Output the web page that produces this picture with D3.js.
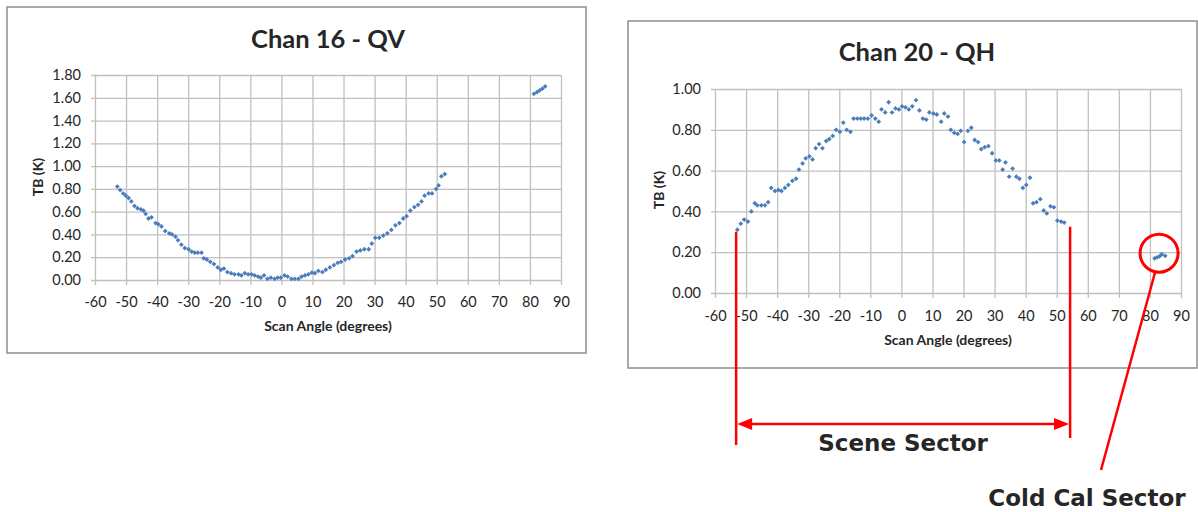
<!DOCTYPE html>
<html>
<head>
<meta charset="utf-8">
<script src="https://cdn.jsdelivr.net/npm/d3@7"></script>
<style>
  body { margin: 0; background: #fff; }
  svg text { font-family: Lato, "Open Sans", sans-serif; fill: #262626; }
</style>
</head>
<body>
<svg id="chart" width="1198" height="512"></svg>
<script>
// ---- data ----
const xTicks = [-60, -50, -40, -30, -20, -10, 0, 10, 20, 30, 40, 50, 60, 70, 80, 90];
const qvTicks = [0, 0.2, 0.4, 0.6, 0.8, 1.0, 1.2, 1.4, 1.6, 1.8];
const qhTicks = [0, 0.2, 0.4, 0.6, 0.8, 1.0];

// Chan 16 - QV
const qvAngle = [-52.8, -51.9, -50.9, -50.1, -49.2, -48.3, -47.3, -46.3, -45.2, -44.4, -43.7, -42.8, -41.8,
  -40.5, -39.6, -38.6, -37.4, -36.1, -35.2, -34.1, -33.3, -32.2, -31.1, -29.9, -28.9, -27.9, -26.9, -25.7,
  -25.0, -24.0, -22.9, -21.7, -20.5, -19.5, -18.5, -17.4, -16.2, -15.1, -13.8, -12.9, -11.8, -10.7, -9.6,
  -8.6, -7.5, -6.6, -5.6, -4.5, -3.4, -2.2, -1.2, -0.2, 1.0, 2.0, 3.2, 4.3, 5.5, 6.5, 7.6, 8.7, 9.8, 10.8,
  11.9, 13.2, 14.3, 15.6, 16.9, 18.1, 19.2, 20.5, 21.8, 22.9, 24.2, 25.4, 26.7, 28.1, 29.1, 30.2, 31.5,
  32.8, 34.1, 35.4, 36.7, 38.0, 39.2, 40.3, 41.5, 42.8, 44.0, 45.1, 46.1, 47.4, 48.5, 49.8, 50.6, 51.5, 52.6,
  81.3, 82.3, 83.1, 84.0, 84.9];
const qvTb = [0.82, 0.79, 0.76, 0.74, 0.72, 0.69, 0.65, 0.63, 0.62, 0.61, 0.58, 0.54, 0.55,
  0.50, 0.49, 0.47, 0.43, 0.41, 0.40, 0.38, 0.35, 0.31, 0.28, 0.27, 0.25, 0.24, 0.24, 0.24,
  0.19, 0.18, 0.16, 0.14, 0.11, 0.09, 0.10, 0.07, 0.06, 0.05, 0.05, 0.04, 0.06, 0.05, 0.05,
  0.04, 0.03, 0.02, 0.04, 0.01, 0.02, 0.01, 0.02, 0.02, 0.04, 0.03, 0.01, 0.01, 0.01, 0.03, 0.04, 0.05, 0.065, 0.06,
  0.08, 0.07, 0.09, 0.11, 0.13, 0.15, 0.16, 0.18, 0.19, 0.21, 0.25, 0.26, 0.27, 0.27, 0.32, 0.37, 0.37,
  0.39, 0.41, 0.44, 0.48, 0.50, 0.54, 0.56, 0.61, 0.64, 0.66, 0.69, 0.74, 0.76, 0.76, 0.80, 0.83, 0.91, 0.93,
  1.635, 1.65, 1.665, 1.68, 1.70];

// Chan 20 - QH
const qhAngle = [-52.8, -51.7, -50.6, -49.4, -48.3, -47.2, -46.4, -45.1, -43.9, -42.9, -41.9, -40.7, -39.6,
  -38.6, -37.5, -36.4, -35.1, -33.9, -33.0, -31.8, -30.8, -29.6, -28.6, -27.6, -26.5, -25.4, -24.2, -23.2,
  -22.1, -21.0, -19.8, -18.7, -17.6, -16.4, -15.4, -14.2, -13.1, -12.0, -10.8, -9.6, -8.4, -7.3, -6.4,
  -5.2, -4.1, -3.0, -1.9, -0.8, 0.2, 1.3, 2.4, 3.5, 4.7, 5.8, 6.9, 8.0, 9.0, 10.3, 11.4, 12.8, 13.8, 15.0,
  15.9, 17.0, 18.1, 19.1, 20.2, 21.4, 22.5, 23.6, 24.7, 25.7, 26.8, 28.0, 29.2, 30.4, 31.5, 32.6, 33.5,
  34.7, 35.8, 37.0, 38.0, 39.1, 40.2, 41.4, 42.4, 43.5, 44.7, 45.8, 46.8, 48.0, 49.1, 50.2, 51.4, 52.4,
  81.5, 82.3, 83.1, 83.8, 84.9];
const qhTb = [0.31, 0.34, 0.36, 0.35, 0.40, 0.44, 0.43, 0.43, 0.43, 0.445, 0.515, 0.50, 0.505,
  0.50, 0.515, 0.53, 0.55, 0.56, 0.605, 0.635, 0.66, 0.67, 0.655, 0.71, 0.73, 0.71, 0.745, 0.755,
  0.77, 0.80, 0.79, 0.835, 0.80, 0.79, 0.855, 0.855, 0.855, 0.855, 0.855, 0.87, 0.855, 0.84, 0.90,
  0.885, 0.935, 0.885, 0.905, 0.90, 0.915, 0.91, 0.90, 0.915, 0.945, 0.895, 0.855, 0.85, 0.885, 0.88, 0.875, 0.84, 0.88, 0.865,
  0.80, 0.785, 0.78, 0.795, 0.74, 0.795, 0.81, 0.75, 0.74, 0.705, 0.715, 0.72, 0.685, 0.65, 0.65, 0.605, 0.64,
  0.57, 0.61, 0.57, 0.56, 0.515, 0.53, 0.565, 0.44, 0.445, 0.46, 0.405, 0.39, 0.425, 0.42, 0.355, 0.35, 0.345,
  0.17, 0.175, 0.18, 0.19, 0.182];

// annotation anchors (scan angle / TB)
const sceneSector = [-53.2, 54.3];
const sceneTop = [0.30, 0.325];
const coldCal = [82.3, 0.195];

const svg = d3.select('#chart');
svg.append('rect').attr('width', 1198).attr('height', 512).attr('fill', '#fff');

// excel-ish small diamond marker
const marker = 'M0,-2.4L2.4,0L0,2.4L-2.4,0Z';

function drawPanel(p) {
  const g = svg.append('g');
  g.append('rect')
    .attr('x', p.frame[0]).attr('y', p.frame[1])
    .attr('width', p.frame[2]).attr('height', p.frame[3])
    .attr('fill', '#fff').attr('stroke', '#8e8e8e').attr('stroke-width', 1.5);

  const x = d3.scaleLinear().domain([-60, 90]).range([p.left, p.right]);
  const y = d3.scaleLinear().domain([0, p.yMax]).range([p.bottom, p.top]);

  g.append('g')
    .attr('transform', `translate(${p.left},0)`)
    .call(d3.axisLeft(y).tickValues(p.yTicks).tickFormat(d3.format('.2f'))
      .tickSize(-(p.right - p.left)).tickSizeOuter(0).tickPadding(14))
    .call(a => a.select('.domain').remove())
    .call(a => a.selectAll('.tick line').attr('x1', -4).attr('stroke', '#c0c0c0').attr('stroke-width', 1.3))
    .call(a => a.selectAll('.tick text').attr('font-size', 14.5).attr('fill', '#262626')
      .style('font-family', 'Lato, sans-serif'));

  g.append('g')
    .attr('transform', `translate(0,${p.bottom})`)
    .call(d3.axisBottom(x).tickValues(xTicks).tickFormat(d => String(d))
      .tickSize(-(p.bottom - p.top)).tickSizeOuter(0))
    .call(a => a.select('.domain').remove())
    .call(a => a.selectAll('.tick line').attr('y1', 5).attr('stroke', '#c0c0c0').attr('stroke-width', 1.3))
    .call(a => a.selectAll('.tick text').attr('y', p.xLabelOff).attr('dy', '0.35em')
      .attr('font-size', 14.5).attr('fill', '#262626').style('font-family', 'Lato, sans-serif'));

  g.append('text')
    .attr('x', p.titleX).attr('y', p.titleY)
    .attr('text-anchor', 'middle').attr('font-size', 25.5).attr('font-weight', 'bold')
    .attr('fill', '#000')
    .text(p.title);

  g.append('text')
    .attr('x', (p.left + p.right) / 2).attr('y', p.xTitleY)
    .attr('text-anchor', 'middle').attr('dy', '0.35em')
    .attr('font-size', 14).attr('font-weight', 'bold')
    .text('Scan Angle (degrees)');

  g.append('text')
    .attr('transform', `translate(${p.yTitleX},${p.yTitleY}) rotate(-90)`)
    .attr('text-anchor', 'middle').attr('dy', '0.35em')
    .attr('font-size', 14).attr('font-weight', 'bold')
    .text('TB (K)');

  const pts = p.ang.map((a, i) => [a, p.tb[i]]);
  g.append('g').selectAll('path')
    .data(pts)
    .join('path')
    .attr('d', marker)
    .attr('transform', d => `translate(${x(d[0])},${y(d[1])})`)
    .attr('fill', '#4a7ebb');

  return { x, y };
}

drawPanel({
  frame: [7, 7, 579, 346],
  left: 95, right: 561, top: 75, bottom: 280,
  yMax: 1.8, yTicks: qvTicks, xLabelOff: 22,
  title: 'Chan 16 - QV', titleX: 328, titleY: 48,
  xTitleY: 326, yTitleX: 38, yTitleY: 177,
  ang: qvAngle, tb: qvTb
});

const qh = drawPanel({
  frame: [628, 21, 569, 347],
  left: 715, right: 1181, top: 89, bottom: 293,
  yMax: 1.0, yTicks: qhTicks, xLabelOff: 23,
  title: 'Chan 20 - QH', titleX: 917, titleY: 61,
  xTitleY: 340, yTitleX: 659, yTitleY: 190,
  ang: qhAngle, tb: qhTb
});

// ---- red annotations ----
const red = '#ff0000';
const ann = svg.append('g');
const xl = qh.x(sceneSector[0]), xr = qh.x(sceneSector[1]);
const arrowY = 424;

ann.append('line').attr('x1', xl).attr('x2', xl)
  .attr('y1', qh.y(sceneTop[0])).attr('y2', 445)
  .attr('stroke', red).attr('stroke-width', 2.5);
ann.append('line').attr('x1', xr).attr('x2', xr)
  .attr('y1', qh.y(sceneTop[1])).attr('y2', 438)
  .attr('stroke', red).attr('stroke-width', 2.5);
ann.append('line').attr('x1', xl + 10).attr('x2', xr - 10)
  .attr('y1', arrowY).attr('y2', arrowY)
  .attr('stroke', red).attr('stroke-width', 2.5);
ann.append('path')
  .attr('d', `M${xl + 1},${arrowY} L${xl + 16},${arrowY - 6} L${xl + 16},${arrowY + 6} Z`)
  .attr('fill', red);
ann.append('path')
  .attr('d', `M${xr - 1},${arrowY} L${xr - 16},${arrowY - 6} L${xr - 16},${arrowY + 6} Z`)
  .attr('fill', red);

ann.append('text')
  .attr('x', (xl + xr) / 2).attr('y', 443).attr('dy', '0.35em')
  .attr('text-anchor', 'middle')
  .style('font-family', '"DejaVu Sans", sans-serif')
  .attr('font-size', 23).attr('font-weight', 'bold').attr('fill', '#000')
  .text('Scene Sector');

const cx = qh.x(coldCal[0]) + 2, cy = qh.y(coldCal[1]);
ann.append('circle').attr('cx', cx).attr('cy', cy).attr('r', 19)
  .attr('fill', 'none').attr('stroke', red).attr('stroke-width', 3);
ann.append('line')
  .attr('x1', cx - 4).attr('y1', cy + 19)
  .attr('x2', 1101).attr('y2', 470)
  .attr('stroke', red).attr('stroke-width', 2.5);

ann.append('text')
  .attr('x', 1087).attr('y', 498).attr('dy', '0.35em')
  .attr('text-anchor', 'middle')
  .style('font-family', '"DejaVu Sans", sans-serif')
  .attr('font-size', 23).attr('font-weight', 'bold').attr('fill', '#000')
  .text('Cold Cal Sector');
</script>
</body>
</html>
